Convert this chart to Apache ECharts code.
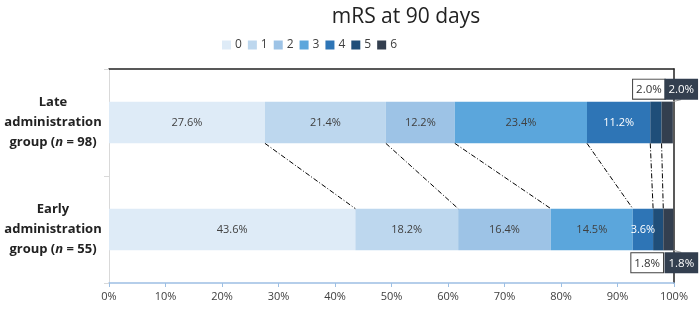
<!DOCTYPE html>
<html><head><meta charset="utf-8">
<script src="https://cdn.jsdelivr.net/npm/echarts@6/dist/echarts.min.js"></script>
<style>html,body{margin:0;padding:0;background:#fff}#c{width:700px;height:312px}</style>
</head><body><div id="c"></div>
<script>
const groups = ['Early', 'Late'];
const groupLabels = ['Early\nadministration\ngroup ({i|n} = 55)', 'Late\nadministration\ngroup ({i|n} = 98)'];
const mrsCategories = ['0', '1', '2', '3', '4', '5', '6'];
const earlyValues = [43.6, 18.2, 16.4, 14.5, 3.6, 1.8, 1.8];
const lateValues = [27.6, 21.4, 12.2, 23.4, 11.2, 2.0, 2.0];
const xTicks = [0, 10, 20, 30, 40, 50, 60, 70, 80, 90, 100];

const colors = ['#deebf7', '#bdd7ee', '#9dc3e6', '#5ba6dc', '#2e75b6', '#1f4e79', '#333f4f'];
const labelColors = ['#404040', '#404040', '#404040', '#404040', '#ffffff', '#404040', '#ffffff'];
const FONT = '"Open Sans", "Noto Sans", sans-serif';
const BAR_RATIO = 0.39;

function cum(a) { let s = 0; return a.map(v => (s += v)); }
const cumEarly = cum(earlyValues), cumLate = cum(lateValues);
const connectors = [];
for (let i = 0; i < 6; i++) connectors.push([cumLate[i], cumEarly[i]]);

// label shifts for outside labels (mRS 5 and 6), per data index [Early, Late]
const outsideShift = { 5: [-11, -7], 6: [13, 14] };

const series = mrsCategories.map((name, k) => {
  const outside = k >= 5;
  const s = {
    name: name,
    type: 'bar',
    stack: 'all',
    barWidth: (BAR_RATIO * 100) + '%',
    itemStyle: { color: colors[k] },
    emphasis: { disabled: true },
    data: [earlyValues[k], lateValues[k]]
  };
  if (!outside) {
    s.label = {
      show: true, position: 'inside', color: labelColors[k],
      fontSize: 11, fontFamily: FONT,
      formatter: (p) => p.value.toFixed(1) + '%'
    };
  } else {
    s.data = [
      { value: earlyValues[k], label: { position: 'bottom' } },
      { value: lateValues[k], label: { position: 'top' } }
    ];
    s.label = {
      show: true, distance: 3,
      fontSize: 11.5, fontFamily: FONT,
      backgroundColor: k === 5 ? '#ffffff' : '#333f4f',
      borderColor: k === 5 ? '#404040' : '#333f4f',
      borderWidth: 1,
      padding: [4, 3, 3, 3],
      color: k === 5 ? '#333' : '#fff',
      formatter: (p) => p.value.toFixed(1) + '%'
    };
    s.labelLayout = (params) => ({ dx: outsideShift[k][params.dataIndex] });
    s.labelLine = { show: k === 6, lineStyle: { color: '#9a9a9a', width: 1 } };
  }
  return s;
});

series.push({
  type: 'custom',
  xAxisIndex: 0,
  yAxisIndex: 0,
  silent: true,
  z: 5,
  renderItem: function (params, api) {
    const p1 = api.coord([api.value(0), 1]);
    const p2 = api.coord([api.value(1), 0]);
    const half = api.size([0, 1])[1] * BAR_RATIO / 2;
    return {
      type: 'line',
      shape: { x1: p1[0], y1: p1[1] + half, x2: p2[0], y2: p2[1] - half },
      style: { stroke: '#000', lineWidth: 1, lineDash: [5, 2, 1, 2] }
    };
  },
  data: connectors
});

const chart = echarts.init(document.getElementById('c'), null, { renderer: 'canvas' });
chart.setOption({
  animation: false,
  textStyle: { fontFamily: FONT },
  title: {
    text: 'mRS at 90 days',
    left: 401, top: 2, textAlign: 'center',
    textStyle: { fontSize: 21, fontWeight: 'normal', color: '#222', fontFamily: FONT }
  },
  legend: {
    data: mrsCategories,
    left: 217, top: 34,
    icon: 'rect', itemWidth: 9, itemHeight: 9, itemGap: 6,
    textStyle: { fontSize: 12, color: '#404040', fontFamily: FONT, padding: [0, 0, 0, -1] }
  },
  grid: { left: 109, right: 26, top: 69, bottom: 29 },
  xAxis: [{
    type: 'value', min: 0, max: 100, interval: 10,
    axisLine: { show: true, lineStyle: { color: '#9dbfe3', width: 1.5 } },
    axisTick: { show: true, length: 4, lineStyle: { color: '#9dbfe3' } },
    splitLine: { show: false },
    axisLabel: { formatter: '{value}%', fontSize: 11, color: '#404040', margin: 8, fontFamily: FONT }
  }, {
    type: 'value', min: 0, max: 100, position: 'top',
    axisLine: { show: true, onZero: false, lineStyle: { color: '#222', width: 1.5 } },
    axisTick: { show: false }, axisLabel: { show: false }, splitLine: { show: false }
  }],
  yAxis: [{
    type: 'category', data: groups,
    axisLine: { show: true, lineStyle: { color: '#d9d9d9' } },
    axisTick: { show: true, length: 5, lineStyle: { color: '#d9d9d9' } },
    axisLabel: {
      formatter: (v, i) => groupLabels[i],
      align: 'center', margin: 56,
      fontSize: 13, fontWeight: 'bold', color: '#222', lineHeight: 20, fontFamily: FONT,
      rich: { i: { fontStyle: 'italic', fontWeight: 'bold', fontSize: 13, color: '#222', fontFamily: FONT } }
    }
  }, {
    type: 'category', data: groups, position: 'right',
    axisLine: { show: true, onZero: false, lineStyle: { color: '#222', width: 1.5 } },
    axisTick: { show: false }, axisLabel: { show: false }
  }],
  series: series
});
</script>
</body></html>
